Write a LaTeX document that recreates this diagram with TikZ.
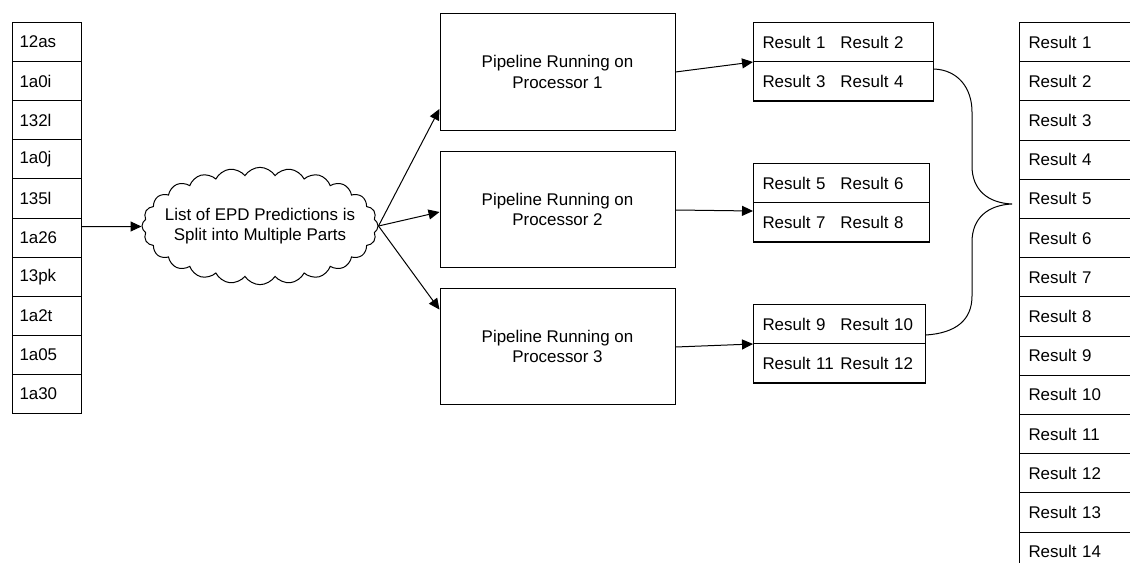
\documentclass[tikz,border=0pt]{standalone}
\usepackage{fontspec}
\setmainfont{Liberation Sans}
\usetikzlibrary{arrows.meta,shapes.symbols,calc}

\begin{document}
\begin{tikzpicture}[x=0.75pt,y=-0.75pt,
  every node/.style={font=\fontsize{12.7}{15.5}\selectfont},
  line/.style={draw=black,line width=0.75pt},
  arr/.style={line,-{Triangle[length=8.25pt,width=7.5pt]}},
  incell/.style={line,rectangle,anchor=north west,inner ysep=0pt,
    inner xsep=5.25pt,text width=41.25pt,align=left,minimum height=29.36pt},
  outcell/.style={line,rectangle,anchor=north west,inner ysep=0pt,
    inner xsep=6.75pt,text width=84pt,align=left,minimum height=29.4pt},
  pipe/.style={line,rectangle,align=center,minimum width=176.25pt,minimum height=87.6pt},
  res/.style={line,rectangle,anchor=north west,inner ysep=0pt,inner xsep=6.75pt,
    align=left,minimum height=29.25pt},
  thickedge/.style={draw=black,line width=1.6pt},
]
\useasboundingbox (0,0) rectangle (1130,563);
\clip (0,0) rectangle (1130,563);

% input list of EPD prediction identifiers
\foreach \t [count=\i] in {12as,1a0i,132l,1a0j,135l,1a26,13pk,1a2t,1a05,1a30}
  \node[incell] (l\i) at (12,{22+(\i-1)*39.1}) {\t};

% merged result list
\foreach \i in {1,...,14}
  \node[outcell] (r\i) at (1019,{22+(\i-1)*39.2}) {Result \i};

% splitting step
\node[line,cloud,cloud puffs=24,cloud puff arc=115,cloud ignores aspect,
      minimum width=177pt,minimum height=88pt,align=center,
      inner xsep=-22pt,inner ysep=0pt]
  (split) at (260,226) {List of EPD Predictions is\\Split into Multiple Parts};

% pipelines
\node[pipe] (p1) at (557.5,72)    {Pipeline Running on\\Processor 1};
\node[pipe] (p2) at (557.5,209.5) {Pipeline Running on\\Processor 2};
\node[pipe] (p3) at (557.5,346.5) {Pipeline Running on\\Processor 3};

% per-processor result tables
\node[res,text width=121.5pt] (a1) at (753,22)  {\makebox[58.5pt][l]{Result 1}Result 2};
\node[res,text width=121.5pt] (a2) at (753,61)  {\makebox[58.5pt][l]{Result 3}Result 4};
\node[res,text width=118.5pt] (b1) at (753,163) {\makebox[58.5pt][l]{Result 5}Result 6};
\node[res,text width=118.5pt] (b2) at (753,202) {\makebox[58.5pt][l]{Result 7}Result 8};
\node[res,text width=115.5pt] (c1) at (753,304) {\makebox[58.5pt][l]{Result 9}Result 10};
\node[res,text width=115.5pt] (c2) at (753,343) {\makebox[58.5pt][l]{Result 11}Result 12};
\draw[thickedge] (a2.south west) -- (a2.south east);
\draw[thickedge] (b2.south west) -- (b2.south east);
\draw[thickedge] (c2.south west) -- (c2.south east);

% connectors
\draw[arr] ($(l6.north east)+(0,9)$) -- ($(split.west)+(0,0.5)$);
\draw[arr] (split.east) -- ($(p1.south west)+(0,-22)$);
\draw[arr] (split.east) -- ($(p2.west)+(0,2.5)$);
\draw[arr] (split.east) -- ($(p3.north west)+(0,22)$);
\draw[arr] ($(p1.east)+(0,0)$) -- (a1.south west);
\draw[arr] ($(p2.east)+(0,0.5)$) -- ($(b1.south west)+(0,8)$);
\draw[arr] ($(p3.east)+(0,0.5)$) -- (c1.south west);

% brace gathering the partial results
\coordinate (tip) at (1012,204);
\draw[line] ($(a2.north east)+(0,8)$)
  .. controls (958,70) and (972,88) .. (972,112)
  -- (972,166)
  .. controls (972,190) and (988,203) .. (tip)
  .. controls (988,205) and (972,218) .. (972,242)
  -- (972,296)
  .. controls (972,320) and (956,333) .. ($(c1.south east)+(0,-9)$);
\end{tikzpicture}
\end{document}
